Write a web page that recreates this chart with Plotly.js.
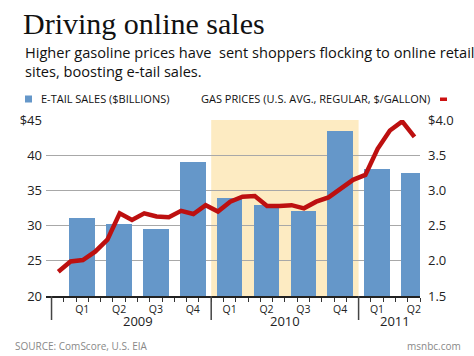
<!DOCTYPE html>
<html>
<head>
<meta charset="utf-8">
<script src="https://cdn.plot.ly/plotly-3.0.1.min.js"></script>
<style>html,body{margin:0;padding:0;background:#fff;}#chart{width:474px;height:356px;}</style>
</head>
<body>
<div id="chart"></div>
<script>
// ---- data ----
const quarterLabels = ["Q1","Q2","Q3","Q4","Q1","Q2","Q3","Q4","Q1","Q2"];
const yearLabels = ["2009","2010","2011"];
const quartersPerYear = [4, 4, 2];
const etailSales = [31.1, 30.2, 29.5, 39.0, 33.9, 32.9, 32.1, 43.4, 38.0, 37.5];
const months = ["Jan 2009","Feb 2009","Mar 2009","Apr 2009","May 2009","Jun 2009","Jul 2009","Aug 2009","Sep 2009","Oct 2009","Nov 2009","Dec 2009",
                "Jan 2010","Feb 2010","Mar 2010","Apr 2010","May 2010","Jun 2010","Jul 2010","Aug 2010","Sep 2010","Oct 2010","Nov 2010","Dec 2010",
                "Jan 2011","Feb 2011","Mar 2011","Apr 2011","May 2011","Jun 2011"];
const gasPrices = [1.845, 1.99, 2.01, 2.13, 2.30, 2.675, 2.58, 2.675, 2.63, 2.62, 2.71, 2.665,
                   2.79, 2.70, 2.84, 2.91, 2.92, 2.78, 2.78, 2.79, 2.745, 2.84, 2.90, 3.03,
                   3.15, 3.22, 3.59, 3.85, 3.98, 3.76];
const leftTicks = [20, 25, 30, 35, 40, 45];
const leftTickText = ["20", "25", "30", "35", "40", "$45"];
const rightTicks = [1.5, 2.0, 2.5, 3.0, 3.5, 4.0];
const rightTickText = ["1.5", "2.0", "2.5", "3.0", "3.5", "$4.0"];

// ---- geometry helpers (plot area: x 46..420, y 120..296) ----
const L = 46, R = 420, T = 120, B = 296;
const px = x => (x - L) / (R - L);
const py = y => (B - y) / (B - T);
const monthX = months.map((m, i) => i);
const barX = etailSales.map((v, q) => 3 * q + 1.95);
const yearX = [];
let qi = 0;
quartersPerYear.forEach(n => {
  const xs = barX.slice(qi, qi + n);
  yearX.push(xs.reduce((a, b) => a + b, 0) / xs.length);
  qi += n;
});
const yearBounds = [-0.55, 12.45, 24.45];

const FONT = "Open Sans, Noto Sans, sans-serif";

const traces = [
  {
    type: "bar", x: barX, y: etailSales, width: 2.08,
    marker: {color: "#6597c9", line: {width: 0}},
    name: "E-TAIL SALES ($BILLIONS)", hoverinfo: "y", showlegend: false
  },
  {
    type: "scatter", mode: "lines", x: monthX, y: gasPrices, yaxis: "y2",
    line: {color: "#bd1010", width: 4.5, shape: "linear"},
    name: "GAS PRICES (U.S. AVG., REGULAR, $/GALLON)", text: months, showlegend: false
  }
];

const shapes = [
  {type: "rect", xref: "x", yref: "paper", x0: 12.45, x1: 24.45, y0: 0, y1: 1,
   fillcolor: "#fdebc2", line: {width: 0}, layer: "below"}
];
yearBounds.forEach(b => shapes.push({
  type: "line", xref: "x", yref: "paper", x0: b, x1: b, y0: 0, y1: py(320),
  line: {color: "#444", width: 1.5}
}));
shapes.push({type: "rect", xref: "paper", yref: "paper", x0: px(25), x1: px(32), y0: py(102.5), y1: py(95.5),
  fillcolor: "#6597c9", line: {width: 0}});
shapes.push({type: "rect", xref: "paper", yref: "paper", x0: px(440), x1: px(447), y0: py(101), y1: py(97.5),
  fillcolor: "#cc1111", line: {width: 0}});

const annotations = [
  {text: "Higher gasoline prices have  sent shoppers flocking to online retail<br>sites, boosting e-tail sales.",
   xref: "paper", yref: "paper", align: "left",
   x: px(23), y: py(61), xanchor: "left", yanchor: "middle", showarrow: false,
   font: {family: FONT, size: 14.6, color: "#111"}},
  {text: "E-TAIL SALES ($BILLIONS)", xref: "paper", yref: "paper",
   x: px(39), y: py(99), xanchor: "left", yanchor: "middle", showarrow: false,
   font: {family: FONT, size: 11, color: "#111"}},
  {text: "GAS PRICES (U.S. AVG., REGULAR, $/GALLON)", xref: "paper", yref: "paper",
   x: px(432), y: py(99), xanchor: "right", yanchor: "middle", showarrow: false,
   font: {family: FONT, size: 11, color: "#111"}},
  {text: "SOURCE: ComScore, U.S. EIA", xref: "paper", yref: "paper",
   x: px(13), y: py(346), xanchor: "left", yanchor: "middle", showarrow: false,
   font: {family: FONT, size: 10, color: "#888"}},
  {text: "msnbc.com", xref: "paper", yref: "paper",
   x: px(463), y: py(346), xanchor: "right", yanchor: "middle", showarrow: false,
   font: {family: FONT, size: 10, color: "#888"}}
];
yearLabels.forEach((y, k) => annotations.push({
  text: y, xref: "x", yref: "paper", x: yearX[k], y: py(321), xanchor: "center", yanchor: "middle",
  showarrow: false, font: {family: FONT, size: 13, color: "#222"}
}));

const layout = {
  width: 474, height: 356,
  margin: {l: L, r: 474 - R, t: T, b: 356 - B, pad: 0},
  paper_bgcolor: "#fff", plot_bgcolor: "#fff",
  title: {text: "Driving online sales", x: 23 / 474, xanchor: "left", xref: "container",
          y: 1 - 23.5 / 356, yanchor: "middle", yref: "container",
          font: {family: "Liberation Serif, DejaVu Serif, serif", size: 30, color: "#111"}},
  showlegend: false,
  bargap: 0,
  xaxis: {
    range: [-1.0, 29.45], tickmode: "array", tickvals: barX, ticktext: quarterLabels,
    ticks: "", showgrid: false, zeroline: false, showline: true, linecolor: "#222", linewidth: 1.5,
    tickfont: {family: FONT, size: 10.5, color: "#222"}, ticklabelstandoff: 3,
    minor: {tickmode: "linear", tick0: 0.45, dtick: 1, ticks: "outside", ticklen: 4, tickcolor: "#333", tickwidth: 1, showgrid: false}
  },
  yaxis: {
    range: [20, 45], tickmode: "array", tickvals: leftTicks, ticktext: leftTickText,
    showgrid: true, gridcolor: "#a8a8a8", gridwidth: 1, zeroline: false, showline: false, ticks: "",
    tickfont: {family: FONT, size: 13, color: "#222"}, ticklabelstandoff: 3
  },
  yaxis2: {
    range: [1.5, 4.0], overlaying: "y", side: "right", tickmode: "array", tickvals: rightTicks, ticktext: rightTickText,
    showgrid: false, zeroline: false, showline: false, ticks: "",
    tickfont: {family: FONT, size: 13, color: "#222"}, ticklabelstandoff: 7
  },
  shapes: shapes,
  annotations: annotations
};

Plotly.newPlot("chart", traces, layout, {displayModeBar: false, staticPlot: true});
</script>
</body>
</html>
